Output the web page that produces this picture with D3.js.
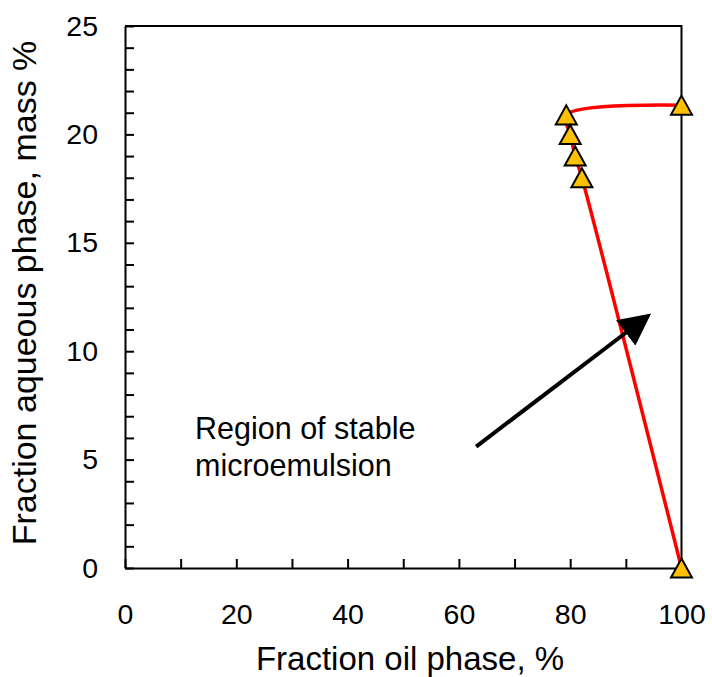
<!DOCTYPE html>
<html>
<head>
<meta charset="utf-8">
<script src="https://cdn.jsdelivr.net/npm/d3@7"></script>
<style>
  body { margin: 0; background: #fff; }
  svg text { font-family: Arial, "Liberation Sans", sans-serif; fill: #000; }
</style>
</head>
<body>
<div id="chart"></div>
<script>
// phase boundary points (oil %, aqueous %)
var oilPct = [100, 79.3, 80.0, 80.9, 82.1, 100];
var aqueousPct = [21.35, 20.9, 20.0, 19.0, 18.0, 0];

var xTickLabels = [0, 20, 40, 60, 80, 100];
var yTickLabels = [0, 5, 10, 15, 20, 25];

// annotation (data units)
var noteLines = ["Region of stable", "microemulsion"];
var arrowFrom = [63.1, 5.6];
var arrowTo = [94.6, 11.75];

var width = 712, height = 677;
var margin = { top: 26, right: 30, bottom: 109, left: 125 };
var w = 681.5 - margin.left, h = 568 - margin.top;

var svg = d3.select("#chart").append("svg")
    .attr("width", width)
    .attr("height", height);

var g = svg.append("g")
    .attr("transform", "translate(" + margin.left + "," + margin.top + ")");

var x = d3.scaleLinear().domain([0, 100]).range([0, w]);
var y = d3.scaleLinear().domain([0, 25]).range([h, 0]);

// axes, ticks inside
var xAxis = d3.axisBottom(x)
    .tickValues(d3.range(0, 101, 10))
    .tickSizeInner(-9)
    .tickSizeOuter(0)
    .tickPadding(36)
    .tickFormat(function(d) { return xTickLabels.indexOf(d) >= 0 ? d : ""; });

var yAxis = d3.axisLeft(y)
    .tickValues(d3.range(0, 26, 1))
    .tickSizeInner(-9)
    .tickSizeOuter(0)
    .tickPadding(27)
    .tickFormat(function(d) { return yTickLabels.indexOf(d) >= 0 ? d : ""; });

var gx = g.append("g")
    .attr("transform", "translate(0," + h + ")")
    .call(xAxis);
var gy = g.append("g").call(yAxis);

[gx, gy].forEach(function(ax) {
    ax.select(".domain").attr("stroke", "#000").attr("stroke-width", 2);
    ax.selectAll(".tick line").attr("stroke", "#000").attr("stroke-width", 2);
    ax.selectAll(".tick text").style("font-size", "28.5px").attr("fill", "#000");
});

// top and right frame
g.append("path")
    .attr("d", "M0,0H" + w + "V" + h)
    .attr("fill", "none")
    .attr("stroke", "#000")
    .attr("stroke-width", 2);

// axis titles
svg.append("text")
    .attr("x", 410)
    .attr("y", 670)
    .attr("text-anchor", "middle")
    .style("font-size", "33px")
    .text("Fraction oil phase, %");

svg.append("text")
    .attr("transform", "translate(36,293) rotate(-90)")
    .attr("text-anchor", "middle")
    .style("font-size", "34px")
    .text("Fraction aqueous phase, mass %");

// boundary line (smoothed, like the spreadsheet)
var line = d3.line()
    .x(function(d, i) { return x(oilPct[i]); })
    .y(function(d, i) { return y(aqueousPct[i]); })
    .curve(d3.curveCatmullRom.alpha(0.5));

g.append("path")
    .datum(oilPct)
    .attr("d", line)
    .attr("fill", "none")
    .attr("stroke", "#ff0000")
    .attr("stroke-width", 3.5);

// triangle markers
var triW = 21, triH = 19;
g.selectAll(".marker")
    .data(oilPct)
    .enter().append("path")
    .attr("class", "marker")
    .attr("d", "M0," + (-triH / 2) + "L" + (triW / 2) + "," + (triH / 2) + "L" + (-triW / 2) + "," + (triH / 2) + "Z")
    .attr("transform", function(d, i) {
        return "translate(" + x(d) + "," + y(aqueousPct[i]) + ")";
    })
    .attr("fill", "#ffc000")
    .attr("stroke", "#000")
    .attr("stroke-width", 2)
    .attr("stroke-linejoin", "miter");

// annotation arrow
svg.append("defs").append("marker")
    .attr("id", "head")
    .attr("viewBox", "0 0 10 10")
    .attr("refX", 2)
    .attr("refY", 5)
    .attr("markerWidth", 8)
    .attr("markerHeight", 8)
    .attr("markerUnits", "strokeWidth")
    .attr("orient", "auto")
    .append("path")
    .attr("d", "M0,0L10,5L0,10Z")
    .attr("fill", "#000");

var ax0 = x(arrowFrom[0]), ay0 = y(arrowFrom[1]);
var ax1 = x(arrowTo[0]), ay1 = y(arrowTo[1]);
var len = Math.hypot(ax1 - ax0, ay1 - ay0);
var shorten = 26;
g.append("line")
    .attr("x1", ax0)
    .attr("y1", ay0)
    .attr("x2", ax1 - (ax1 - ax0) / len * shorten)
    .attr("y2", ay1 - (ay1 - ay0) / len * shorten)
    .attr("stroke", "#000")
    .attr("stroke-width", 4)
    .attr("marker-end", "url(#head)");

// annotation text
var note = svg.append("text")
    .style("font-size", "30.5px");
note.selectAll("tspan")
    .data(noteLines)
    .enter().append("tspan")
    .attr("x", 195)
    .attr("y", function(d, i) { return 439 + i * 37; })
    .text(function(d) { return d; });
</script>
</body>
</html>
